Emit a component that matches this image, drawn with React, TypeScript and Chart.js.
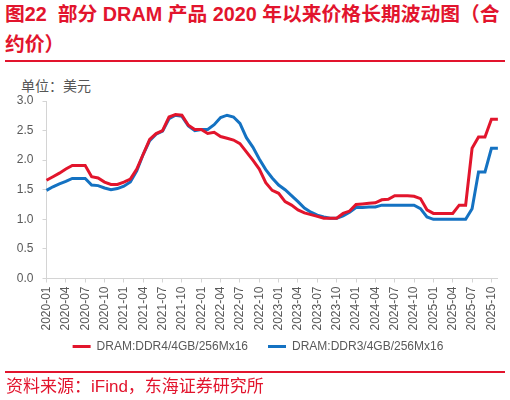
import React, { useEffect, useRef } from "react";
import { Chart, registerables } from "chart.js";

Chart.register(...registerables);

const categories: string[] = [
  "2020-01", "2020-02", "2020-03", "2020-04", "2020-05", "2020-06", "2020-07", "2020-08", "2020-09", "2020-10", "2020-11", "2020-12",
  "2021-01", "2021-02", "2021-03", "2021-04", "2021-05", "2021-06", "2021-07", "2021-08", "2021-09", "2021-10", "2021-11", "2021-12",
  "2022-01", "2022-02", "2022-03", "2022-04", "2022-05", "2022-06", "2022-07", "2022-08", "2022-09", "2022-10", "2022-11", "2022-12",
  "2023-01", "2023-02", "2023-03", "2023-04", "2023-05", "2023-06", "2023-07", "2023-08", "2023-09", "2023-10", "2023-11", "2023-12",
  "2024-01", "2024-02", "2024-03", "2024-04", "2024-05", "2024-06", "2024-07", "2024-08", "2024-09", "2024-10", "2024-11", "2024-12",
  "2025-01", "2025-02", "2025-03", "2025-04", "2025-05", "2025-06", "2025-07", "2025-08", "2025-09", "2025-10", "2025-11",
];

const tickLabels: string[] = [
  "2020-01", "2020-04", "2020-07", "2020-10",
  "2021-01", "2021-04", "2021-07", "2021-10",
  "2022-01", "2022-04", "2022-07", "2022-10",
  "2023-01", "2023-04", "2023-07", "2023-10",
  "2024-01", "2024-04", "2024-07", "2024-10",
  "2025-01", "2025-04", "2025-07", "2025-10",
];

const ddr4: number[] = [
  1.66, 1.72, 1.78, 1.85, 1.91, 1.91, 1.91, 1.72, 1.70, 1.63, 1.59, 1.59,
  1.63, 1.68, 1.85, 2.10, 2.35, 2.45, 2.50, 2.73, 2.77, 2.76, 2.59, 2.52,
  2.52, 2.45, 2.47, 2.40, 2.37, 2.34, 2.28, 2.14, 2.00, 1.85, 1.62, 1.49,
  1.44, 1.30, 1.24, 1.16, 1.11, 1.08, 1.05, 1.02, 1.02, 1.02, 1.10, 1.14,
  1.25, 1.26, 1.27, 1.28, 1.33, 1.34, 1.40, 1.40, 1.40, 1.39, 1.35, 1.16,
  1.10, 1.10, 1.10, 1.10, 1.24, 1.24, 2.20, 2.39, 2.39, 2.69, 2.69,
];

const ddr3: number[] = [
  1.49, 1.55, 1.60, 1.64, 1.69, 1.69, 1.69, 1.58, 1.57, 1.53, 1.50, 1.52,
  1.56, 1.63, 1.82, 2.10, 2.33, 2.44, 2.49, 2.70, 2.76, 2.74, 2.58, 2.50,
  2.52, 2.52, 2.60, 2.72, 2.76, 2.73, 2.62, 2.38, 2.22, 2.02, 1.84, 1.70,
  1.58, 1.50, 1.40, 1.30, 1.19, 1.12, 1.07, 1.04, 1.02, 1.02, 1.06, 1.12,
  1.20, 1.20, 1.21, 1.21, 1.24, 1.24, 1.24, 1.24, 1.24, 1.24, 1.18, 1.04,
  1.00, 1.00, 1.00, 1.00, 1.00, 1.00, 1.18, 1.80, 1.80, 2.20, 2.20,
];

const seriesNames: string[] = ["DRAM:DDR4/4GB/256Mx16", "DRAM:DDR3/4GB/256Mx16"];
const seriesColors: string[] = ["#E2152C", "#1472C2"];

const RED = "#E2142D";
const LATIN = "'Liberation Sans', Arial, 'Noto Sans CJK SC', sans-serif";
const CJK = "'Liberation Sans', 'Noto Sans CJK SC', sans-serif";

const CANVAS_TOP = 90;

export default function App() {
  const canvasRef = useRef<HTMLCanvasElement | null>(null);

  useEffect(() => {
    if (!canvasRef.current) return;
    const axisColor = "#D4D4D4";
    const textColor = "#595959";
    const legendShift = {
      id: "legendShift",
      afterLayout(c: any) {
        const l = c.legend;
        if (!l) return;
        l.top -= 12;
        l.bottom -= 12;
        l.left += 9;
        l.right += 9;
      },
    };
    const chart = new Chart(canvasRef.current, {
      type: "line",
      data: {
        labels: categories,
        datasets: [
          {
            label: seriesNames[0],
            data: ddr4,
            borderColor: seriesColors[0],
            backgroundColor: seriesColors[0],
            borderWidth: 3,
            pointRadius: 0,
            tension: 0,
          },
          {
            label: seriesNames[1],
            data: ddr3,
            borderColor: seriesColors[1],
            backgroundColor: seriesColors[1],
            borderWidth: 3,
            pointRadius: 0,
            tension: 0,
          },
        ],
      },
      options: {
        animation: false,
        responsive: false,
        maintainAspectRatio: false,
        layout: { padding: { top: 11, left: 0, right: 12, bottom: 0.5 } },
        plugins: {
          tooltip: { enabled: false },
          legend: {
            position: "bottom",
            labels: {
              boxWidth: 18,
              boxHeight: 3,
              padding: 20,
              color: textColor,
              font: { family: LATIN, size: 12 },
              generateLabels: (c: any) =>
                Chart.defaults.plugins.legend.labels
                  .generateLabels(c)
                  .map((l: any) => ({ ...l, fillStyle: l.strokeStyle, lineWidth: 0 })),
            },
          },
        },
        scales: {
          x: {
            type: "category",
            offset: false,
            afterFit: (axis: any) => {
              axis.height = 54;
            },
            grid: {
              drawOnChartArea: false,
              drawTicks: true,
              tickLength: 4,
              color: axisColor,
            },
            border: { display: true, color: axisColor, width: 1 },
            ticks: {
              autoSkip: false,
              minRotation: 90,
              maxRotation: 90,
              padding: 4,
              color: textColor,
              font: { family: LATIN, size: 12 },
              callback: (_v: any, index: number) =>
                tickLabels.includes(categories[index]) ? categories[index] : null,
            },
          },
          y: {
            type: "linear",
            min: 0,
            max: 3,
            afterFit: (axis: any) => {
              axis.width = 46.5;
              axis.paddingTop = 0;
              axis.paddingBottom = 0;
            },
            grid: {
              drawOnChartArea: false,
              drawTicks: true,
              tickLength: 4,
              color: axisColor,
            },
            border: { display: true, color: axisColor, width: 1 },
            ticks: {
              stepSize: 0.5,
              padding: 9,
              color: textColor,
              font: { family: LATIN, size: 12 },
              callback: (v: any) => Number(v).toFixed(1),
            },
          },
        },
      },
      plugins: [legendShift],
    } as any);
    return () => chart.destroy();
  }, []);

  return (
    <div style={{ position: "absolute", left: 0, top: 0, width: 510, height: 400, background: "#fff", overflow: "hidden" }}>
      <div
        style={{
          position: "absolute",
          left: 5,
          top: 0,
          width: 505,
          fontFamily: CJK,
          fontWeight: "bold",
          fontSize: 19.8,
          lineHeight: "29.5px",
          color: RED,
          whiteSpace: "pre",
        }}
      >
        <div>图22  部分 DRAM 产品 2020 年以来价格长期波动图（合</div>
        <div>约价）</div>
      </div>
      <div style={{ position: "absolute", left: 5, top: 60, width: 500, height: 2, background: RED }} />
      <div
        style={{
          position: "absolute",
          left: 21,
          top: 76,
          fontFamily: "'Noto Sans CJK SC', sans-serif",
          fontSize: 14,
          lineHeight: "18px",
          color: "#555555",
          whiteSpace: "pre",
        }}
      >
        单位：美元
      </div>
      <canvas
        ref={canvasRef}
        width={510}
        height={285}
        style={{ position: "absolute", left: 0, top: CANVAS_TOP, width: 510, height: 285 }}
      />
      <div style={{ position: "absolute", left: 5, top: 371, width: 500, height: 2, background: RED }} />
      <div
        style={{
          position: "absolute",
          left: 6,
          top: 376,
          fontFamily: CJK,
          fontSize: 17,
          lineHeight: "22px",
          color: RED,
          whiteSpace: "pre",
        }}
      >
        资料来源：iFind，东海证券研究所
      </div>
    </div>
  );
}
